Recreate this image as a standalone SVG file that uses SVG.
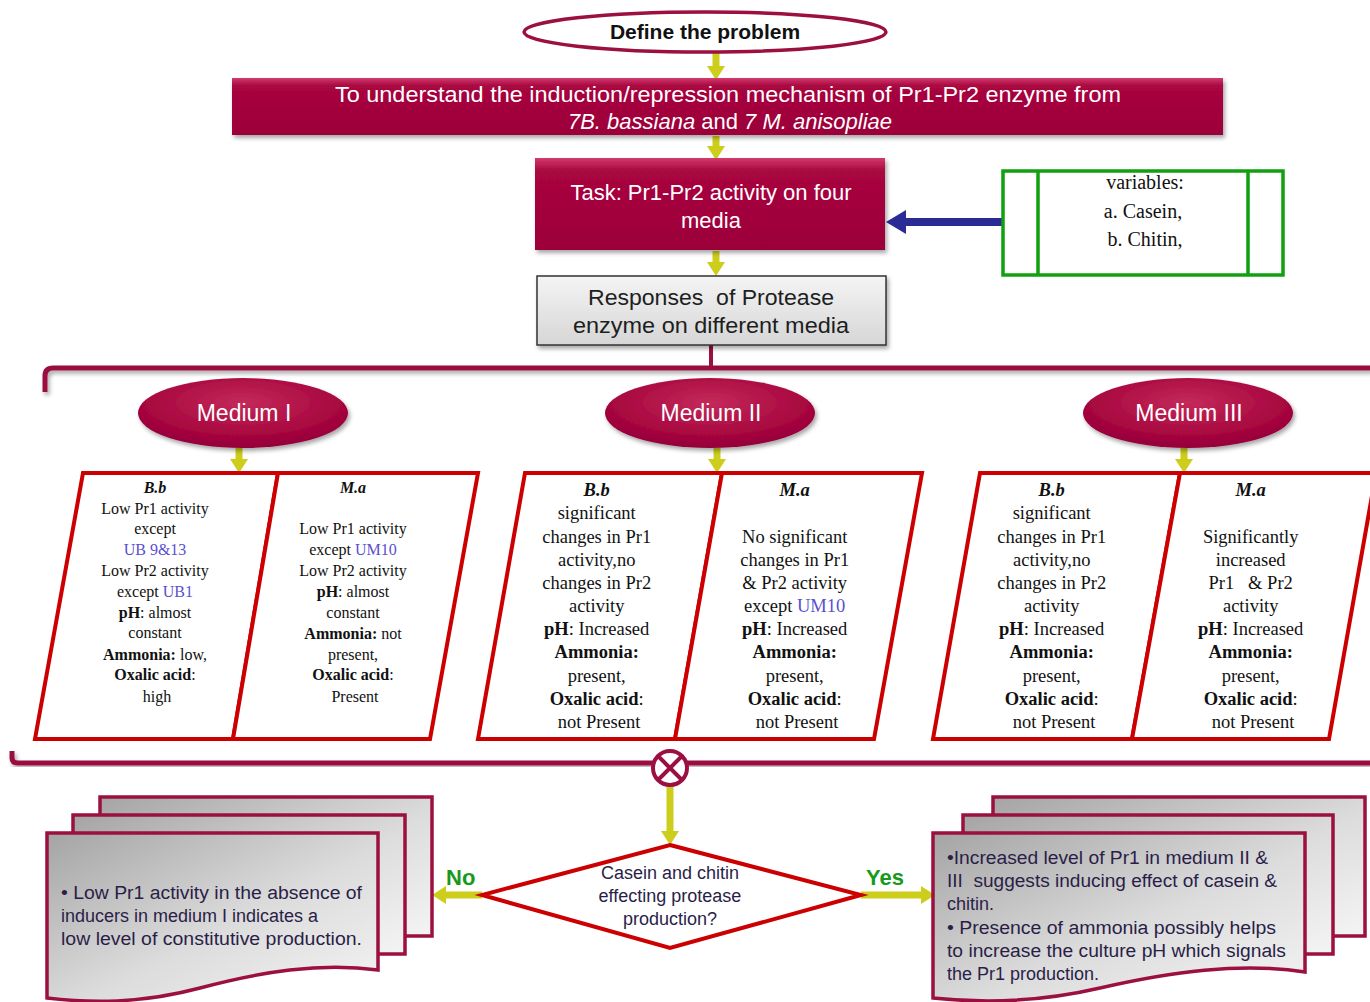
<svg xmlns="http://www.w3.org/2000/svg" width="1370" height="1002" viewBox="0 0 1370 1002">
  <defs>
    <linearGradient id="crimson" x1="0" y1="0" x2="0" y2="1">
      <stop offset="0" stop-color="#d23a6c"/>
      <stop offset="0.14" stop-color="#a8073f"/>
      <stop offset="1" stop-color="#9c0039"/>
    </linearGradient>
    <radialGradient id="pill" cx="0.5" cy="0.35" r="0.65">
      <stop offset="0" stop-color="#c42a5a"/>
      <stop offset="0.7" stop-color="#a8073f"/>
      <stop offset="1" stop-color="#93003a"/>
    </radialGradient>
    <linearGradient id="greyBox" x1="0" y1="0" x2="0" y2="1">
      <stop offset="0" stop-color="#f4f4f4"/>
      <stop offset="1" stop-color="#d6d6d6"/>
    </linearGradient>
    <linearGradient id="paper" x1="0" y1="0" x2="1" y2="1">
      <stop offset="0" stop-color="#a4a4a4"/>
      <stop offset="0.55" stop-color="#dcdcdc"/>
      <stop offset="1" stop-color="#f4f4f4"/>
    </linearGradient>
    <filter id="shadow" x="-10%" y="-10%" width="120%" height="140%">
      <feDropShadow dx="2" dy="3" stdDeviation="2" flood-color="#000" flood-opacity="0.35"/>
    </filter>
    <!-- yellow arrowhead; tip sits 12px beyond the shaft end -->
    <marker id="yhead" viewBox="0 0 14 18" refX="2" refY="9" markerWidth="14" markerHeight="18" markerUnits="userSpaceOnUse" orient="auto">
      <path d="M0,0 L14,9 L0,18 z" fill="#cdcd1c"/>
    </marker>
  </defs>
  <style>
    .hdr { font-family: "Liberation Sans", Arial, sans-serif; fill: #ffffff; font-size: 22px; text-anchor: middle; }
    .pillt { font-family: "Liberation Sans", Arial, sans-serif; fill: #ffffff; font-size: 23px; text-anchor: middle; }
    .grey { font-family: "Liberation Sans", Arial, sans-serif; fill: #1e1e1e; font-size: 22px; text-anchor: middle; }
    .var { font-family: "Liberation Serif", "Times New Roman", serif; fill: #111; font-size: 20px; text-anchor: middle; }
    .cell { font-family: "Liberation Serif", "Times New Roman", serif; fill: #111; text-anchor: middle; }
    .s16 { font-size: 16px; }
    .s18 { font-size: 18.5px; }
    .b { font-weight: bold; }
    .bi { font-weight: bold; font-style: italic; }
    .blue { fill: #5a4fd0; }
    .para { fill: #ffffff; stroke: #cc0000; stroke-width: 4; stroke-linejoin: miter; }
    .yel { stroke: #cdcd1c; stroke-width: 7; fill: none; marker-end: url(#yhead); }
    .brk { fill: none; stroke: #9b1040; stroke-width: 5; filter: url(#shadow); }
    .doc { fill: url(#paper); stroke: #9b1040; stroke-width: 3.5; }
    .note { font-family: "Liberation Sans", Arial, sans-serif; fill: #2a1e48; font-size: 18px; }
    .dtext { font-family: "Liberation Sans", Arial, sans-serif; fill: #2a1e48; font-size: 18px; text-anchor: middle; }
    .yn { font-family: "Liberation Sans", Arial, sans-serif; fill: #179a1a; font-size: 22px; font-weight: bold; }
    .pre { white-space: pre; }
  </style>

  <!-- connectors -->
  <g id="connectors">
    <line class="yel" x1="716" y1="53" x2="716" y2="68"/>
    <line class="yel" x1="716" y1="136" x2="716" y2="148"/>
    <line class="yel" x1="716" y1="251" x2="716" y2="264"/>
    <line x1="1004" y1="222" x2="904" y2="222" stroke="#2b2b96" stroke-width="8"/>
    <path d="M906,210 L886,222 L906,234 z" fill="#2b2b96"/>
    <line x1="711" y1="345" x2="711" y2="368" stroke="#9b1040" stroke-width="4"/>
    <path class="brk" d="M45,392 L45,376 Q45,368 53,368 L1372,368"/>
    <line class="yel" x1="239" y1="448" x2="239" y2="461"/>
    <line class="yel" x1="717" y1="448" x2="717" y2="461"/>
    <line class="yel" x1="1184" y1="448" x2="1184" y2="461"/>
    <path class="brk" d="M12,751 L12,758 Q12,763 18,763 L1372,763"/>
    <line class="yel" x1="670" y1="786" x2="670" y2="833"/>
    <line class="yel" x1="482" y1="895" x2="444" y2="895"/>
    <line class="yel" x1="861" y1="895" x2="923" y2="895"/>
    <text class="yn" x="446" y="885">No</text>
    <text class="yn" x="866" y="885">Yes</text>
  </g>

  <!-- problem definition -->
  <g id="define">
    <ellipse cx="705" cy="32" rx="181" ry="20" fill="#ffffff" stroke="#9b1040" stroke-width="3.5"/>
    <text x="705" y="39" font-family="Liberation Sans, Arial, sans-serif" font-size="21" font-weight="bold" fill="#111" text-anchor="middle">Define the problem</text>
  </g>

  <g id="aim">
    <rect x="232" y="78" width="991" height="57" fill="url(#crimson)" filter="url(#shadow)"/>
    <text class="hdr" x="728" y="102" textLength="786" lengthAdjust="spacingAndGlyphs">To understand the induction/repression mechanism  of Pr1-Pr2 enzyme from</text>
    <text class="hdr" x="730" y="129"><tspan font-style="italic">7B. bassiana</tspan> and <tspan font-style="italic">7 M. anisopliae</tspan></text>
  </g>

  <g id="task">
    <rect x="535" y="158" width="350" height="92" fill="url(#crimson)" filter="url(#shadow)"/>
    <text class="hdr" x="711" y="200">Task: Pr1-Pr2 activity on four</text>
    <text class="hdr" x="711" y="228">media</text>
  </g>

  <g id="variables">
    <rect x="1003" y="171" width="280" height="104" fill="#ffffff" stroke="#10a010" stroke-width="3.5"/>
    <line x1="1038" y1="171" x2="1038" y2="275" stroke="#10a010" stroke-width="3.5"/>
    <line x1="1248" y1="171" x2="1248" y2="275" stroke="#10a010" stroke-width="3.5"/>
    <text class="var" x="1145" y="189">variables:</text>
    <text class="var" x="1143" y="218">a. Casein,</text>
    <text class="var" x="1145" y="246">b. Chitin,</text>
  </g>

  <g id="responses">
    <rect x="537" y="276" width="349" height="69" fill="url(#greyBox)" stroke="#333" stroke-width="1.5" filter="url(#shadow)"/>
    <text class="grey pre" x="711" y="305" textLength="246" lengthAdjust="spacingAndGlyphs">Responses  of Protease</text>
    <text class="grey" x="711" y="333" textLength="276" lengthAdjust="spacingAndGlyphs">enzyme on different media</text>
  </g>

  <!-- media headings -->
  <g id="medium-1">
    <ellipse cx="243" cy="413" rx="105" ry="35" fill="url(#pill)" filter="url(#shadow)"/>
    <text class="pillt" x="244" y="421">Medium I</text>
  </g>
  <g id="medium-2">
    <ellipse cx="710" cy="413" rx="105" ry="35" fill="url(#pill)" filter="url(#shadow)"/>
    <text class="pillt" x="711" y="421">Medium II</text>
  </g>
  <g id="medium-3">
    <ellipse cx="1188" cy="413" rx="105" ry="35" fill="url(#pill)" filter="url(#shadow)"/>
    <text class="pillt" x="1189" y="421">Medium III</text>
  </g>

  <!-- Medium I results -->
  <g id="m1-bb">
    <polygon class="para" points="83,473 278,473 233,739 35,739"/>
    <text class="cell s16" x="157">
      <tspan class="bi" x="157" y="493">B.b</tspan>
      <tspan x="157" y="514">Low Pr1 activity</tspan>
      <tspan x="157" y="534">except</tspan>
      <tspan class="blue" x="157" y="555">UB 9&amp;13</tspan>
      <tspan x="157" y="576">Low Pr2 activity</tspan>
      <tspan x="157" y="597">except <tspan class="blue">UB1</tspan></tspan>
      <tspan x="157" y="618"><tspan class="b">pH</tspan>: almost</tspan>
      <tspan x="157" y="638">constant</tspan>
      <tspan x="157" y="660"><tspan class="b">Ammonia:</tspan> low,</tspan>
      <tspan x="157" y="680"><tspan class="b">Oxalic acid</tspan>:</tspan>
      <tspan x="157" y="702">high</tspan>
    </text>
  </g>
  <g id="m1-ma">
    <polygon class="para" points="278,473 478,473 430,739 233,739"/>
    <text class="cell s16" x="355">
      <tspan class="bi" x="355" y="493">M.a</tspan>
      <tspan x="355" y="534">Low Pr1 activity</tspan>
      <tspan x="355" y="555">except <tspan class="blue">UM10</tspan></tspan>
      <tspan x="355" y="576">Low Pr2 activity</tspan>
      <tspan x="355" y="597"><tspan class="b">pH</tspan>: almost</tspan>
      <tspan x="355" y="618">constant</tspan>
      <tspan x="355" y="639"><tspan class="b">Ammonia:</tspan> not</tspan>
      <tspan x="355" y="660">present,</tspan>
      <tspan x="355" y="680"><tspan class="b">Oxalic acid</tspan>:</tspan>
      <tspan x="355" y="702">Present</tspan>
    </text>
  </g>

  <!-- Medium II results -->
  <g id="m2-bb">
    <polygon class="para" points="525,473 722,473 675,739 478,739"/>
    <text class="cell s18" x="599">
      <tspan class="bi" x="599" y="496">B.b</tspan>
      <tspan x="599" y="519">significant</tspan>
      <tspan x="599" y="543">changes in Pr1</tspan>
      <tspan x="599" y="566">activity,no</tspan>
      <tspan x="599" y="589">changes in Pr2</tspan>
      <tspan x="599" y="612">activity</tspan>
      <tspan x="599" y="635"><tspan class="b">pH</tspan>: Increased</tspan>
      <tspan class="b" x="599" y="658">Ammonia:</tspan>
      <tspan x="599" y="682">present,</tspan>
      <tspan x="599" y="705"><tspan class="b">Oxalic acid</tspan>:</tspan>
      <tspan x="599" y="728">not Present</tspan>
    </text>
  </g>
  <g id="m2-ma">
    <polygon class="para" points="722,473 922,473 874,739 675,739"/>
    <text class="cell s18" x="797">
      <tspan class="bi" x="797" y="496">M.a</tspan>
      <tspan x="797" y="543">No significant</tspan>
      <tspan x="797" y="566">changes in Pr1</tspan>
      <tspan x="797" y="589">&amp; Pr2 activity</tspan>
      <tspan x="797" y="612">except <tspan class="blue">UM10</tspan></tspan>
      <tspan x="797" y="635"><tspan class="b">pH</tspan>: Increased</tspan>
      <tspan class="b" x="797" y="658">Ammonia:</tspan>
      <tspan x="797" y="682">present,</tspan>
      <tspan x="797" y="705"><tspan class="b">Oxalic acid</tspan>:</tspan>
      <tspan x="797" y="728">not Present</tspan>
    </text>
  </g>

  <!-- Medium III results -->
  <g id="m3-bb">
    <polygon class="para" points="980,473 1180,473 1132,739 933,739"/>
    <text class="cell s18" x="1054">
      <tspan class="bi" x="1054" y="496">B.b</tspan>
      <tspan x="1054" y="519">significant</tspan>
      <tspan x="1054" y="543">changes in Pr1</tspan>
      <tspan x="1054" y="566">activity,no</tspan>
      <tspan x="1054" y="589">changes in Pr2</tspan>
      <tspan x="1054" y="612">activity</tspan>
      <tspan x="1054" y="635"><tspan class="b">pH</tspan>: Increased</tspan>
      <tspan class="b" x="1054" y="658">Ammonia:</tspan>
      <tspan x="1054" y="682">present,</tspan>
      <tspan x="1054" y="705"><tspan class="b">Oxalic acid</tspan>:</tspan>
      <tspan x="1054" y="728">not Present</tspan>
    </text>
  </g>
  <g id="m3-ma">
    <polygon class="para" points="1180,473 1376,473 1329,739 1132,739"/>
    <text class="cell s18" x="1253">
      <tspan class="bi" x="1253" y="496">M.a</tspan>
      <tspan x="1253" y="543">Significantly</tspan>
      <tspan x="1253" y="566">increased</tspan>
      <tspan class="pre" x="1253" y="589">Pr1   &amp; Pr2</tspan>
      <tspan x="1253" y="612">activity</tspan>
      <tspan x="1253" y="635"><tspan class="b">pH</tspan>: Increased</tspan>
      <tspan class="b" x="1253" y="658">Ammonia:</tspan>
      <tspan x="1253" y="682">present,</tspan>
      <tspan x="1253" y="705"><tspan class="b">Oxalic acid</tspan>:</tspan>
      <tspan x="1253" y="728">not Present</tspan>
    </text>
  </g>

  <!-- merge point -->
  <g id="merge">
    <circle cx="670" cy="768" r="17" fill="#ffffff" stroke="#9b1040" stroke-width="4"/>
    <line x1="658" y1="756" x2="682" y2="780" stroke="#9b1040" stroke-width="4"/>
    <line x1="682" y1="756" x2="658" y2="780" stroke="#9b1040" stroke-width="4"/>
  </g>

  <g id="decision">
    <polygon points="670,845 861,895 670,948 482,895" fill="#ffffff" stroke="#cc0000" stroke-width="4"/>
    <text class="dtext" x="670" y="879">Casein and chitin</text>
    <text class="dtext" x="670" y="902">effecting protease</text>
    <text class="dtext" x="670" y="925">production?</text>
  </g>

  <!-- outcome notes -->
  <g id="note-no">
    <rect class="doc" x="100" y="797" width="332" height="139"/>
    <rect class="doc" x="73" y="815" width="332" height="139"/>
    <path class="doc" d="M47,833 H378 V970 C320,962 260,972 200,988 C140,1004 90,1003 47,998 Z"/>
    <text class="note" x="61" y="899" textLength="301" lengthAdjust="spacingAndGlyphs">• Low Pr1 activity in the absence of</text>
    <text class="note" x="61" y="922">inducers in medium I indicates a</text>
    <text class="note" x="61" y="945" textLength="301" lengthAdjust="spacingAndGlyphs">low level of constitutive production.</text>
  </g>

  <g id="note-yes">
    <rect class="doc" x="993" y="797" width="372" height="139"/>
    <rect class="doc" x="963" y="815" width="370" height="139"/>
    <path class="doc" d="M933,833 H1305 V972 C1240,962 1170,972 1100,988 C1040,1002 980,1003 933,998 Z"/>
    <text class="note" x="947" y="864" textLength="321" lengthAdjust="spacingAndGlyphs">•Increased level of Pr1 in medium II &amp;</text>
    <text class="note pre" x="947" y="887" textLength="330" lengthAdjust="spacingAndGlyphs">III  suggests inducing effect of casein &amp;</text>
    <text class="note" x="947" y="910">chitin.</text>
    <text class="note" x="947" y="934" textLength="329" lengthAdjust="spacingAndGlyphs">• Presence of ammonia possibly helps</text>
    <text class="note" x="947" y="957" textLength="339" lengthAdjust="spacingAndGlyphs">to increase the culture pH which signals</text>
    <text class="note" x="947" y="980">the Pr1 production.</text>
  </g>
</svg>
